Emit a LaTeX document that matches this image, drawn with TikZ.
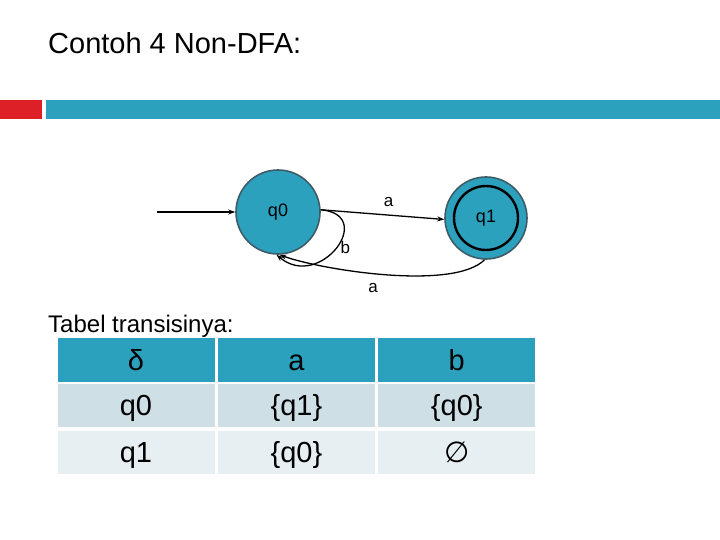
\documentclass[tikz,border=0pt]{standalone}
\usepackage{fontspec}
\setmainfont{Liberation Sans}
\newfontfamily\symfont{DejaVu Sans}
\usetikzlibrary{arrows.meta, positioning}
\definecolor{barTeal}{RGB}{44, 161, 190}
\definecolor{barRed}{RGB}{221, 32, 39}
\definecolor{ringDark}{RGB}{62, 92, 104}
\definecolor{rowOne}{RGB}{207, 223, 230}
\definecolor{rowTwo}{RGB}{232, 239, 242}

\begin{document}
\begin{tikzpicture}[
    x=1pt, y=-1pt,
    stateNode/.style={circle, draw=ringDark, fill=barTeal, line width=1.6pt, minimum size=84pt, inner sep=0pt, font=\fontsize{18}{20}\selectfont},
    edgeLabel/.style={font=\fontsize{17}{19}\selectfont, inner sep=1pt},
    transArrow/.style={-{Stealth[length=7pt, width=5pt]}, line width=1.3pt},
    headCell/.style={rectangle, fill=barTeal, minimum width=157pt, minimum height=44pt, inner sep=0pt, text height=20pt, text depth=-4pt, font=\fontsize{29}{32}\selectfont},
    rowCell/.style={rectangle, minimum width=157pt, minimum height=43pt, inner sep=0pt, text height=20pt, text depth=-4pt, font=\fontsize{29}{32}\selectfont}
  ]
    \useasboundingbox (0,0) rectangle (720,540);

    % Title and header bars
    \node[anchor=base west, inner sep=0pt, font=\fontsize{29}{32}\selectfont] (title) at (48,54) {Contoh 4 Non-DFA:};
    \fill[barRed] (0,100) rectangle (42,119);
    \fill[barTeal] (46,100) rectangle (720,119);

    % Automaton
    \node[stateNode] (q0) at (278,212) {q0};
    \node[stateNode, minimum size=82pt] (q1) at (486,218) {q1};
    \draw[line width=2.4pt] (q1.center) circle[radius=32pt];
    \coordinate (start) at (157,212);

    \draw[transArrow] (start) -- (q0.west);
    \draw[transArrow] (q0.3) -- node[edgeLabel, above=7pt, pos=0.55] {a} (q1.182);
    \draw[transArrow] (q0.3) to[out=-5, in=-40, looseness=2.3] node[edgeLabel, right=3pt, pos=0.5] {b} (q0.-92);
    \draw[transArrow] (q1.-92) to[out=-135, in=-20, looseness=0.55] node[edgeLabel, below=8pt, pos=0.55] {a} (q0.-88);

    % Transition table
    \node[anchor=base west, inner sep=0pt, font=\fontsize{24}{28}\selectfont] (tabTitle) at (48,332) {Tabel transisinya:};

    \node[headCell] (hd) at (136,360) {δ};
    \node[headCell, right=3pt of hd] (ha) {a};
    \node[headCell, right=3pt of ha] (hb) {b};

    \node[rowCell, fill=rowOne, below=2pt of hd] (r0) {q0};
    \node[rowCell, fill=rowOne, right=3pt of r0] (r0a) {\{q1\}};
    \node[rowCell, fill=rowOne, right=3pt of r0a] (r0b) {\{q0\}};

    \node[rowCell, fill=rowTwo, below=3pt of r0] (r1) {q1};
    \node[rowCell, fill=rowTwo, right=3pt of r1] (r1a) {\{q0\}};
    \node[rowCell, fill=rowTwo, right=3pt of r1a] (r1b) {{\symfont ∅}};
  \end{tikzpicture}
\end{document}
